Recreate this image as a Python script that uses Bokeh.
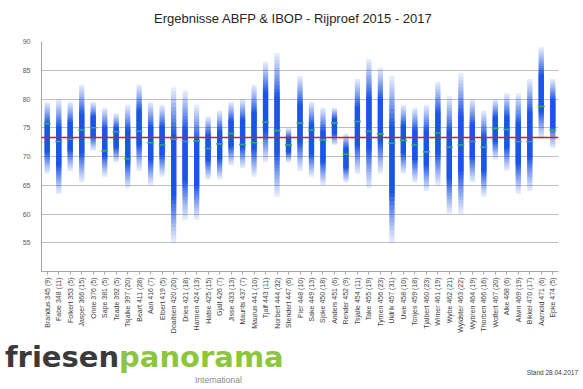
import numpy as np
from bokeh.plotting import figure
from bokeh.layouts import column
from bokeh.models import FactorRange, Range1d, FixedTicker, Span, Label, Div
from bokeh.embed import file_html
from bokeh.resources import INLINE

names = ["Brandus 345 (9)", "Fabe 348 (11)", "Folkert 353 (5)", "Jasper 366 (15)", "Onne 376 (5)",
         "Sape 381 (5)", "Teade 392 (5)", "Tsjalke 397 (20)", "Beart 411 (28)", "Aan 416 (7)",
         "Elbert 419 (5)", "Doaitsen 420 (20)", "Dries 421 (18)", "Harmen 424 (13)", "Hatse 425 (15)",
         "Gjalt 426 (7)", "Jisse 433 (13)", "Maurits 437 (7)", "Maurus 441 (10)", "Tjalf 443 (11)",
         "Norbert 444 (32)", "Stendert 447 (6)", "Pier 448 (10)", "Sake 449 (13)", "Sjoke 450 (18)",
         "Anders 451 (6)", "Render 452 (9)", "Tsjalle 454 (11)", "Take 455 (19)", "Tymen 456 (23)",
         "Uldrik 457 (31)", "Uwe 458 (10)", "Tonjes 459 (18)", "Tjalbert 460 (23)", "Wimer 461 (19)",
         "Wybe 462 (21)", "Wyldster 463 (22)", "Wybren 464 (19)", "Thorben 466 (16)", "Wolfert 467 (20)",
         "Alke 468 (6)", "Alwin 469 (19)", "Bikkel 470 (17)", "Aarnold 471 (6)", "Epke 474 (5)"]

maxima = [79.5, 80.0, 79.5, 82.5, 79.5, 78.5, 77.5, 79.0, 82.5, 79.5,
          79.0, 82.0, 81.5, 79.0, 77.0, 78.0, 79.5, 80.0, 82.5, 86.5,
          88.0, 75.0, 84.0, 79.5, 78.5, 78.5, 74.0, 83.5, 87.0, 85.5,
          84.0, 79.0, 78.5, 79.0, 83.0, 80.5, 84.5, 80.0, 78.0, 80.0,
          81.0, 81.0, 83.5, 89.0, 83.5]
minima = [67.0, 63.5, 67.5, 65.5, 71.0, 66.5, 69.0, 64.5, 67.5, 65.0,
          66.5, 55.0, 59.0, 59.0, 66.0, 66.0, 68.5, 68.0, 66.5, 69.0,
          63.0, 69.0, 67.5, 66.5, 65.0, 72.0, 65.5, 67.0, 64.5, 67.0,
          55.0, 67.0, 65.5, 64.0, 65.0, 60.0, 60.0, 65.5, 63.0, 69.5,
          67.5, 63.5, 64.0, 73.0, 71.5]
means = [75.7, 72.6, 73.0, 74.6, 75.0, 71.0, 74.3, 69.6, 74.4, 72.4,
         72.0, 73.0, 72.6, 72.7, 71.4, 72.2, 74.0, 72.1, 72.4, 76.0,
         74.5, 72.0, 75.8, 74.6, 72.9, 75.8, 70.4, 76.1, 74.4, 73.9,
         72.3, 72.8, 72.0, 70.8, 74.1, 71.6, 72.0, 72.6, 71.6, 74.9,
         74.7, 72.6, 72.6, 78.7, 74.6]
overall_mean = 73.3
y_ticks = [55, 60, 65, 70, 75, 80, 85, 90]

title_text = "Ergebnisse ABFP & IBOP - Rijproef 2015 - 2017"
stand_text = "Stand 28.04.2017"

FONT = "Liberation Sans"
BLUE = "#1450e6"
W = 583
BL, BR = 41, 25  # frame borders shared by the stacked figures

# header with the title (its frame is aligned with the chart frame)
head = figure(width=W, height=33, x_range=Range1d(BL, W - BR), y_range=Range1d(0, 33),
              output_backend="svg", toolbar_location=None, x_axis_type=None, y_axis_type=None,
              min_border_left=BL, min_border_right=BR, min_border_top=0, min_border_bottom=0)
head.outline_line_color = None
head.grid.visible = False
head.add_layout(Label(x=293, y=15, text=title_text, text_font=FONT, text_font_size="13px",
                      text_color="#262626", text_align="center", text_baseline="middle"))

# main chart
p = figure(width=W, height=303, x_range=FactorRange(*names), y_range=Range1d(50, 90),
           output_backend="svg", toolbar_location=None,
           min_border_left=BL, min_border_right=BR, min_border_top=8, min_border_bottom=50)
p.outline_line_color = None

N = 20
targets = []
for k in range(N):
    d = 1 - k / N
    o = 0.12 + 0.86 * min(1.0, (1 - d) * 1.7) ** 1.1
    targets.append(min(o, 0.97))
alphas = []
prev = 0.0
for o in targets:
    a = 1 - (1 - o) / (1 - prev)
    alphas.append(max(a, 0.0))
    prev = o

xs, bots, tops, als = [], [], [], []
for n, lo, hi in zip(names, minima, maxima):
    mid = (lo + hi) / 2
    half = (hi - lo) / 2
    for k in range(N):
        frac = 1 - k / N
        xs.append(n)
        bots.append(mid - half * frac)
        tops.append(mid + half * frac)
        als.append(alphas[k])

p.vbar(x=xs, bottom=bots, top=tops, width=0.45, fill_color=BLUE, fill_alpha=als, line_color=None)

p.add_layout(Span(location=overall_mean, dimension="width", line_color="#c8232c", line_width=1.5))

p.scatter(x=names, y=means, marker="dash", size=7, line_color="#2fae72", line_width=1.6)

p.yaxis.ticker = FixedTicker(ticks=y_ticks)
p.yaxis.major_label_text_font = FONT
p.yaxis.major_label_text_font_size = "7px"
p.yaxis.major_label_text_color = "#595959"
p.yaxis.axis_line_color = "#a6a6a6"
p.yaxis.major_tick_line_color = None
p.yaxis.minor_tick_line_color = None
p.yaxis.major_label_standoff = 5

p.xaxis.major_label_orientation = np.pi / 2
p.xaxis.major_label_text_font = FONT
p.xaxis.major_label_text_font_size = "7px"
p.xaxis.major_label_text_color = "#404040"
p.xaxis.axis_line_color = "#a6a6a6"
p.xaxis.major_tick_line_color = "#a6a6a6"
p.xaxis.major_tick_in = 0
p.xaxis.major_tick_out = 3
p.xaxis.major_label_standoff = 3

p.xgrid.grid_line_color = None
p.ygrid.ticker = FixedTicker(ticks=y_ticks)
p.ygrid.grid_line_color = "#c0c0c0"

# footer with logo and date
footer_html = (
    '<div style="position:relative;width:583px;height:53px;overflow:hidden;">'
    '<span style="position:absolute;left:5px;top:7px;font-family:\'DejaVu Sans\';font-weight:bold;'
    'font-size:29px;line-height:29px;white-space:nowrap;">'
    '<span style="color:#3a3a3a;">friesen</span><span style="color:#8cc63e;">panorama</span></span>'
    '<span style="position:absolute;left:195px;top:40px;font-family:\'Liberation Sans\';'
    'font-size:8.5px;line-height:9px;color:#8a8a8a;white-space:nowrap;">International</span>'
    '<span style="position:absolute;right:5px;top:33px;font-family:\'Liberation Sans\';'
    'font-size:6.5px;line-height:7px;color:#404040;white-space:nowrap;">' + stand_text + '</span>'
    '</div>'
)
foot = Div(text=footer_html, width=W, height=53, margin=0)

layout = column(head, p, foot, spacing=0)
open("out.html", "w").write(file_html(layout, INLINE))
